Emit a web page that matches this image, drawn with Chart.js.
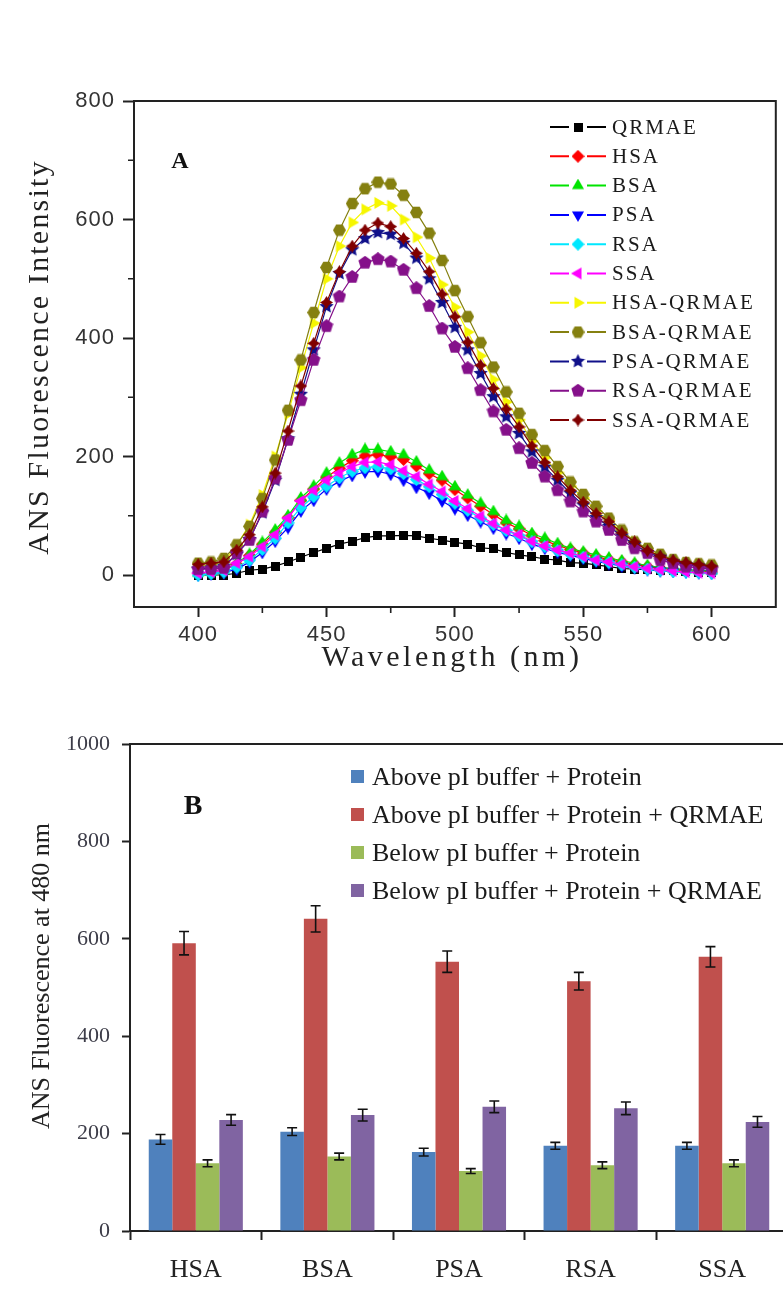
<!DOCTYPE html>
<html>
<head>
<meta charset="utf-8">
<script src="https://cdn.jsdelivr.net/npm/chart.js@4.4.1/dist/chart.umd.min.js"></script>
<style>
html,body{margin:0;padding:0;background:#fff;width:783px;height:1289px;overflow:hidden;position:relative}
#ca{position:absolute;left:0;top:0}
#cb{position:absolute;left:0;top:690px}
</style>
</head>
<body>
<canvas id="ca" width="783" height="690"></canvas>
<canvas id="cb" width="800" height="599"></canvas>
<script>
// ---------------- Panel A data ----------------
const wavelengths = [400,405,410,415,420,425,430,435,440,445,450,455,460,465,470,475,480,485,490,495,500,505,510,515,520,525,530,535,540,545,550,555,560,565,570,575,580,585,590,595,600];
const qrmae = [0,0,0,3,8,10,15,22,30,38,45,52,57,63,66,66,67,66,62,59,55,52,46,44,38,34,31,27,25,21,20,17,14,11,10,9,8,7,6,5,5];
const hsa   = [3,5,8,18,33,52,72,97,126,145,165,180,193,201,203,200,195,184,171,160,144,130,116,102,88,78,67,58,50,43,37,31,26,22,18,14,11,9,7,6,5];
const bsa   = [3,5,8,20,35,55,76,100,130,150,172,189,203,212,212,208,203,191,177,166,149,135,121,107,92,82,70,62,53,45,39,34,29,24,20,16,13,11,9,8,7];
const psa   = [0,2,4,10,22,38,57,80,108,126,145,158,168,174,175,170,160,148,138,125,112,101,90,79,70,62,52,45,38,33,28,23,19,15,12,9,7,6,5,4,3];
const rsa   = [0,2,5,13,25,43,62,88,114,132,150,164,175,181,183,179,171,161,149,136,121,109,96,85,75,66,56,48,41,35,30,25,21,17,13,10,8,6,5,4,3];
const ssa   = [3,5,8,20,31,48,68,96,125,143,160,172,183,190,191,186,176,166,153,141,125,112,99,87,76,68,57,49,42,37,31,25,22,18,14,11,9,7,5,4,3];
const hsaQ  = [15,17,22,50,85,135,200,272,350,425,500,555,595,617,628,623,600,570,535,490,452,410,370,330,292,262,226,198,173,150,130,108,92,72,56,42,33,25,20,17,15];
const bsaQ  = [20,22,28,51,82,129,194,278,363,443,519,582,627,652,663,660,641,612,577,531,480,436,392,351,309,273,237,210,183,157,136,116,96,76,56,45,35,26,21,19,17];
const psaQ  = [10,12,15,35,60,105,160,230,305,380,453,509,549,568,578,575,560,535,500,460,418,380,340,301,267,239,208,182,160,138,118,97,82,66,51,38,30,22,18,15,12];
const rsaQ  = [10,10,12,37,59,107,163,228,295,363,420,470,503,527,533,529,515,484,454,416,385,349,312,276,245,214,189,166,143,124,107,90,76,59,45,37,25,20,14,12,10];
const ssaQ  = [18,20,22,42,68,115,172,243,319,391,460,512,555,582,594,588,568,543,512,474,436,393,354,315,280,250,218,190,166,143,123,104,90,71,56,41,32,25,21,18,15];
const seriesNamesA = ['QRMAE','HSA','BSA','PSA','RSA','SSA','HSA-QRMAE','BSA-QRMAE','PSA-QRMAE','RSA-QRMAE','SSA-QRMAE'];
const xTicksA = [400,450,500,550,600];
const yTicksA = [0,200,400,600,800];
const xMinorA = [425,475,525,575];
const yMinorA = [100,300,500,700];

// ---------------- Panel B data ----------------
const proteins = ['HSA','BSA','PSA','RSA','SSA'];
const seriesNamesB = ['Above pI buffer + Protein','Above pI buffer + Protein + QRMAE','Below pI buffer + Protein','Below pI buffer + Protein + QRMAE'];
const aboveProt     = [188,204,162,175,175];
const aboveProtErr  = [10,8,8,7,7];
const aboveProtQ    = [591,641,553,513,563];
const aboveProtQErr = [24,27,22,18,21];
const belowProt     = [139,153,123,135,139];
const belowProtErr  = [7,7,5,7,7];
const belowProtQ    = [228,238,255,252,224];
const belowProtQErr = [11,12,12,13,11];
const yTicksB = [0,200,400,600,800,1000];

// ---------------- marker shapes ----------------
function marker(kind, color, size) {
  const c = document.createElement('canvas');
  c.width = size; c.height = size;
  const g = c.getContext('2d');
  const cx = size / 2, cy = size / 2, R = size / 2;
  g.fillStyle = color;
  g.beginPath();
  const poly = (n, start, r) => {
    for (let k = 0; k < n; k++) {
      const a = start + k * 2 * Math.PI / n;
      const px = cx + r * Math.cos(a), py = cy + r * Math.sin(a);
      k ? g.lineTo(px, py) : g.moveTo(px, py);
    }
  };
  const star = (n, rOut, rIn) => {
    for (let k = 0; k < 2 * n; k++) {
      const a = -Math.PI / 2 + k * Math.PI / n;
      const r = k % 2 ? rIn : rOut;
      const px = cx + r * Math.cos(a), py = cy + r * Math.sin(a);
      k ? g.lineTo(px, py) : g.moveTo(px, py);
    }
  };
  switch (kind) {
    case 'square': g.rect(0, 0, size, size); break;
    case 'diamond': poly(4, -Math.PI / 2, R); break;
    case 'triUp': poly(3, -Math.PI / 2, R); break;
    case 'triDown': poly(3, Math.PI / 2, R); break;
    case 'triLeft': poly(3, Math.PI, R); break;
    case 'triRight': poly(3, 0, R); break;
    case 'hex': poly(6, 0, R); break;
    case 'pent': poly(5, -Math.PI / 2, R); break;
    case 'star': star(5, R, R * 0.48); break;
    case 'star4': star(4, R, R * 0.55); break;
  }
  g.closePath();
  g.fill();
  return c;
}

const colorsA = ['#000000','#ff0000','#00e400','#0000ff','#00e8ff','#ff00ff','#f6f600','#858010','#10108a','#85108a','#800000'];
const markersA = [
  marker('square', colorsA[0], 9),
  marker('diamond', colorsA[1], 13),
  marker('triUp', colorsA[2], 14),
  marker('triDown', colorsA[3], 14),
  marker('diamond', colorsA[4], 13),
  marker('triLeft', colorsA[5], 14),
  marker('triRight', colorsA[6], 14),
  marker('hex', colorsA[7], 13),
  marker('star', colorsA[8], 15),
  marker('pent', colorsA[9], 14),
  marker('star4', colorsA[10], 13)
];
const valuesA = [qrmae, hsa, bsa, psa, rsa, ssa, hsaQ, bsaQ, psaQ, rsaQ, ssaQ];

const serif = '"Liberation Serif", "Times New Roman", serif';

const decorA = {
  id: 'decorA',
  beforeDraw(chart) { chart.ctx.letterSpacing = '1px'; },
  afterDraw(chart) {
    const { ctx, chartArea: a, scales: { x, y } } = chart;
    ctx.save();
    ctx.letterSpacing = '0px';
    ctx.strokeStyle = '#222';
    ctx.lineWidth = 2;
    ctx.beginPath();
    ctx.moveTo(a.left, a.top); ctx.lineTo(a.right, a.top); ctx.lineTo(a.right, a.bottom + 1);
    ctx.stroke();
    ctx.lineWidth = 1.6;
    ctx.beginPath();
    xMinorA.forEach(v => { const p = x.getPixelForValue(v); ctx.moveTo(p, a.bottom); ctx.lineTo(p, a.bottom + 6); });
    yMinorA.forEach(v => { const p = y.getPixelForValue(v); ctx.moveTo(a.left - 6, p); ctx.lineTo(a.left, p); });
    ctx.stroke();

    // legend
    ctx.font = '21px ' + serif;
    ctx.letterSpacing = '2px';
    ctx.textAlign = 'left';
    ctx.textBaseline = 'middle';
    chart.data.datasets.forEach((ds, i) => {
      const ly = 127 + i * 29.3;
      ctx.strokeStyle = ds.borderColor;
      ctx.lineWidth = 2;
      ctx.beginPath();
      ctx.moveTo(550, ly); ctx.lineTo(569, ly);
      ctx.moveTo(587, ly); ctx.lineTo(606, ly);
      ctx.stroke();
      const m = ds.pointStyle;
      ctx.drawImage(m, 578 - m.width / 2, ly - m.height / 2);
      ctx.fillStyle = '#1a1a1a';
      ctx.fillText(ds.label, 612, ly + 1);
    });

    // panel letter
    ctx.letterSpacing = '0px';
    ctx.fillStyle = '#111';
    ctx.font = 'bold 24px ' + serif;
    ctx.textAlign = 'center';
    ctx.fillText('A', 180, 162);

    // axis titles
    ctx.fillStyle = '#222';
    ctx.font = '30px ' + serif;
    ctx.letterSpacing = '2.2px';
    ctx.save();
    ctx.translate(40, 357);
    ctx.rotate(-Math.PI / 2);
    ctx.fillText('ANS Fluorescence Intensity', 0, 0);
    ctx.restore();
    ctx.letterSpacing = '3.5px';
    ctx.fillText('Wavelength (nm)', 452, 658);
    ctx.restore();
  }
};

const axisGrid = (len) => ({ display: true, drawOnChartArea: false, drawTicks: true, tickLength: len, tickWidth: 2, tickColor: '#222' });
const axisBorder = { display: true, color: '#222', width: 2 };

new Chart(document.getElementById('ca'), {
  type: 'line',
  data: {
    datasets: valuesA.map((vals, i) => ({
      label: seriesNamesA[i],
      data: wavelengths.map((w, k) => ({ x: w, y: vals[k] })),
      borderColor: colorsA[i],
      backgroundColor: colorsA[i],
      borderWidth: 1.2,
      pointStyle: markersA[i],
      pointRadius: 6,
      tension: 0,
      order: 100 - i
    }))
  },
  options: {
    responsive: false,
    animation: false,
    devicePixelRatio: 1,
    layout: { padding: { top: 101, right: 4, left: 0, bottom: 0 } },
    plugins: { legend: { display: false }, tooltip: { enabled: false } },
    scales: {
      x: {
        type: 'linear', min: 375, max: 625,
        afterBuildTicks: s => { s.ticks = xTicksA.map(v => ({ value: v })); },
        afterFit: s => { s.height = 83; },
        grid: axisGrid(10), border: axisBorder,
        ticks: { font: { family: '"Liberation Sans Narrow", "Liberation Sans", Arial, sans-serif', size: 22 }, color: '#333', padding: 5, maxRotation: 0, callback: v => String(v) }
      },
      y: {
        type: 'linear', min: -54, max: 800,
        afterBuildTicks: s => { s.ticks = yTicksA.map(v => ({ value: v })); },
        afterFit: s => { s.width = 134; },
        grid: axisGrid(11), border: axisBorder,
        ticks: { font: { family: '"Liberation Sans Narrow", "Liberation Sans", Arial, sans-serif', size: 22 }, color: '#333', padding: 8, callback: v => String(v) }
      }
    }
  },
  plugins: [decorA]
});

// ---------------- Panel B ----------------
const colorsB = ['#4f81bd','#c0504d','#9bbb59','#8064a2'];
const valuesB = [aboveProt, aboveProtQ, belowProt, belowProtQ];
const errorsB = [aboveProtErr, aboveProtQErr, belowProtErr, belowProtQErr];

const decorB = {
  id: 'decorB',
  afterDatasetsDraw(chart) {
    const { ctx, scales: { y } } = chart;
    ctx.save();
    ctx.strokeStyle = '#111';
    ctx.lineWidth = 1.6;
    chart.data.datasets.forEach((ds, i) => {
      const meta = chart.getDatasetMeta(i);
      meta.data.forEach((el, j) => {
        const v = ds.data[j], e = errorsB[i][j];
        const yt = y.getPixelForValue(v + e), yb = y.getPixelForValue(v - e);
        const cx = el.x;
        ctx.beginPath();
        ctx.moveTo(cx, yt); ctx.lineTo(cx, yb);
        ctx.moveTo(cx - 5, yt); ctx.lineTo(cx + 5, yt);
        ctx.moveTo(cx - 5, yb); ctx.lineTo(cx + 5, yb);
        ctx.stroke();
      });
    });
    ctx.restore();
  },
  afterDraw(chart) {
    const { ctx, chartArea: a } = chart;
    ctx.save();
    ctx.strokeStyle = '#222';
    ctx.lineWidth = 2;
    ctx.beginPath(); ctx.moveTo(a.left, a.top); ctx.lineTo(a.right, a.top); ctx.stroke();

    // legend
    ctx.font = '26px ' + serif;
    ctx.textAlign = 'left';
    ctx.textBaseline = 'middle';
    chart.data.datasets.forEach((ds, i) => {
      const ly = 87 + i * 38;
      ctx.fillStyle = ds.backgroundColor;
      ctx.fillRect(351, ly - 7, 13, 13);
      ctx.fillStyle = '#1a1a1a';
      ctx.fillText(ds.label, 372, ly + 1);
    });

    ctx.fillStyle = '#111';
    ctx.font = 'bold 28px ' + serif;
    ctx.textAlign = 'center';
    ctx.fillText('B', 193, 117);

    ctx.fillStyle = '#222';
    ctx.font = '26px ' + serif;
    ctx.save();
    ctx.translate(42, 286);
    ctx.rotate(-Math.PI / 2);
    ctx.fillText('ANS Fluorescence at 480 nm', 0, 0);
    ctx.restore();
    ctx.restore();
  }
};

new Chart(document.getElementById('cb'), {
  type: 'bar',
  data: {
    labels: proteins,
    datasets: valuesB.map((vals, i) => ({
      label: seriesNamesB[i],
      data: vals,
      backgroundColor: colorsB[i],
      borderWidth: 0,
      categoryPercentage: 0.715,
      barPercentage: 1
    }))
  },
  options: {
    responsive: false,
    animation: false,
    devicePixelRatio: 1,
    layout: { padding: { top: 54, right: 12, left: 0, bottom: 0 } },
    plugins: { legend: { display: false }, tooltip: { enabled: false } },
    scales: {
      x: {
        afterFit: s => { s.height = 58; },
        grid: Object.assign(axisGrid(9), { offset: true }), border: axisBorder,
        ticks: { font: { family: serif, size: 26 }, color: '#222', padding: 15, maxRotation: 0 }
      },
      y: {
        min: 0, max: 1000,
        afterBuildTicks: s => { s.ticks = yTicksB.map(v => ({ value: v })); },
        afterFit: s => { s.width = 130; },
        grid: axisGrid(8), border: axisBorder,
        ticks: { font: { family: serif, size: 22 }, color: '#3c3c48', padding: 12, callback: v => String(v) }
      }
    }
  },
  plugins: [decorB]
});
</script>
</body>
</html>
